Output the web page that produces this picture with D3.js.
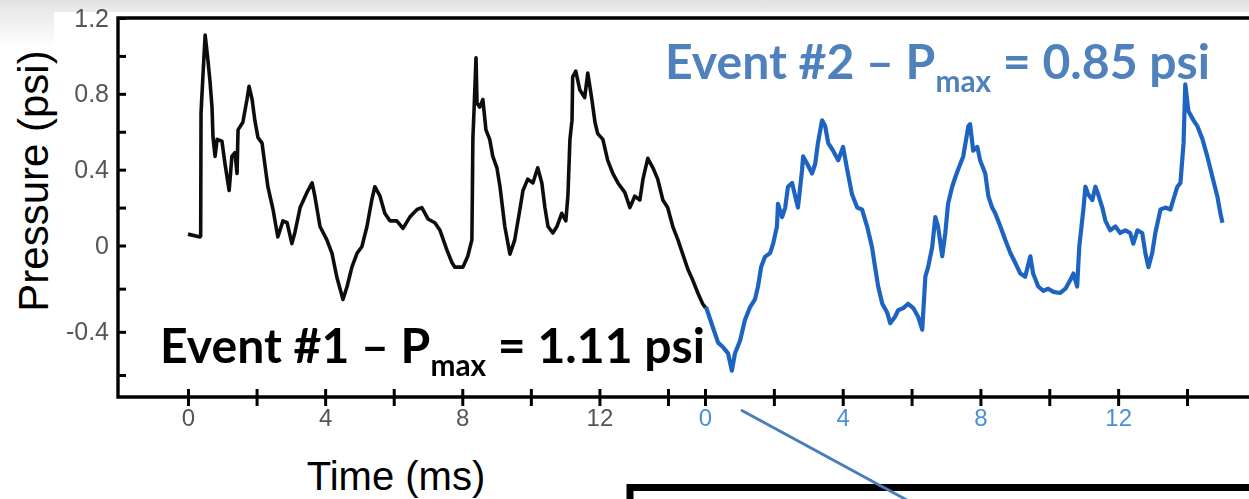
<!DOCTYPE html>
<html>
<head>
<meta charset="utf-8">
<script src="https://cdn.jsdelivr.net/npm/d3@7"></script>
<style>
  html, body { margin: 0; padding: 0; background: #ffffff; overflow: hidden; }
  svg { display: block; }
</style>
</head>
<body>
<svg id="chart" width="1249" height="499"></svg>
<script>
// ---- Data: two blast-pressure recordings (time in ms, pressure in psi) ----
const event1Time = [0.00, 0.35, 0.37, 0.38, 0.44, 0.50, 0.58, 0.64, 0.70, 0.73, 0.79, 0.85, 0.99, 1.08, 1.20,
  1.28, 1.37, 1.43, 1.46, 1.60, 1.72, 1.78, 1.87, 1.95, 2.04, 2.16, 2.24, 2.33, 2.48, 2.62, 2.77, 2.89, 3.03,
  3.12, 3.27, 3.47, 3.62, 3.70, 3.85, 4.05, 4.20, 4.34, 4.52, 4.64, 4.78, 4.93, 5.07, 5.22, 5.36, 5.45, 5.60,
  5.74, 5.89, 6.09, 6.27, 6.47, 6.68, 6.82, 7.00, 7.20, 7.35, 7.55, 7.70, 7.78, 8.02, 8.16, 8.28, 8.31, 8.34,
  8.40, 8.43, 8.51, 8.60, 8.69, 8.80, 8.89, 9.01, 9.10, 9.24, 9.39, 9.53, 9.68, 9.77, 9.91, 10.06, 10.20,
  10.32, 10.41, 10.50, 10.64, 10.76, 10.90, 11.02, 11.08, 11.14, 11.20, 11.22, 11.31, 11.43, 11.57, 11.66,
  11.78, 11.87, 11.95, 12.10, 12.24, 12.39, 12.54, 12.74, 12.89, 13.03, 13.18, 13.27, 13.41, 13.56, 13.70,
  13.85, 13.99, 14.14, 14.29, 14.43, 14.58, 14.72, 14.87, 15.01, 15.10];
const event1Pressure = [0.06, 0.045, 0.05, 0.70, 0.91, 1.11, 0.98, 0.87, 0.73, 0.57, 0.47, 0.56, 0.55, 0.43, 0.29,
  0.47, 0.49, 0.38, 0.61, 0.65, 0.77, 0.84, 0.77, 0.66, 0.57, 0.54, 0.43, 0.31, 0.19, 0.045, 0.13, 0.12, 0.01,
  0.07, 0.20, 0.28, 0.33, 0.26, 0.10, 0.03, -0.036, -0.146, -0.25, -0.19, -0.10, -0.036, -0.006, 0.10, 0.24, 0.31, 0.26,
  0.17, 0.13, 0.13, 0.09, 0.15, 0.19, 0.20, 0.14, 0.12, 0.08, -0.02, -0.08, -0.10, -0.10, -0.05, 0.03, 0.57, 0.70,
  0.99, 0.75, 0.73, 0.77, 0.61, 0.56, 0.47, 0.41, 0.31, 0.10, -0.04, 0.03, 0.19, 0.29, 0.35, 0.33, 0.41,
  0.33, 0.20, 0.10, 0.066, 0.10, 0.17, 0.13, 0.26, 0.56, 0.66, 0.89, 0.92, 0.82, 0.78, 0.91,
  0.77, 0.65, 0.59, 0.56, 0.45, 0.38, 0.33, 0.28, 0.20, 0.26, 0.24, 0.35, 0.46, 0.41, 0.35,
  0.24, 0.20, 0.10, 0.03, -0.04, -0.11, -0.16, -0.22, -0.27, -0.29];

const event2Time = [0.03, 0.23, 0.38, 0.52, 0.67, 0.78, 0.87, 1.02, 1.16, 1.31, 1.45, 1.54, 1.63, 1.74, 1.89, 1.98,
  2.09, 2.12, 2.24, 2.33, 2.41, 2.53, 2.62, 2.70, 2.82, 2.85, 2.97, 3.11, 3.20, 3.28, 3.40, 3.49, 3.58, 3.72,
  3.87, 4.01, 4.13, 4.27, 4.42, 4.56, 4.71, 4.85, 4.94, 5.03, 5.15, 5.29, 5.38, 5.52, 5.61, 5.76, 5.90, 6.05,
  6.19, 6.31, 6.40, 6.48, 6.60, 6.69, 6.77, 6.89, 6.98, 7.06, 7.18, 7.27, 7.35, 7.50, 7.65, 7.70, 7.79, 7.91,
  7.99, 8.14, 8.23, 8.34, 8.43, 8.58, 8.72, 8.87, 9.01, 9.16, 9.30, 9.45, 9.53, 9.68, 9.83, 9.97, 10.12, 10.32,
  10.47, 10.61, 10.70, 10.81, 10.87, 10.99, 11.05, 11.13, 11.25, 11.34, 11.42, 11.54, 11.63, 11.77, 11.92,
  12.06, 12.21, 12.35, 12.44, 12.56, 12.70, 12.79, 12.88, 12.99, 13.08, 13.23, 13.37, 13.52, 13.60, 13.72,
  13.81, 13.90, 13.95, 14.04, 14.19, 14.30, 14.45, 14.59, 14.74, 14.88, 14.97, 15.03];
const event2Pressure = [-0.285, -0.38, -0.45, -0.47, -0.50, -0.58, -0.50, -0.44, -0.345, -0.285, -0.25, -0.19, -0.10, -0.053, -0.035, 0.01,
  0.10, 0.22, 0.15, 0.20, 0.31, 0.33, 0.26, 0.20, 0.40, 0.47, 0.43, 0.38, 0.43, 0.54, 0.66, 0.63, 0.54, 0.50,
  0.45, 0.52, 0.40, 0.27, 0.20, 0.19, 0.10, -0.007, -0.10, -0.19, -0.27, -0.31, -0.36, -0.33, -0.30, -0.29, -0.27, -0.29,
  -0.33, -0.39, -0.145, -0.10, -0.007, 0.15, 0.10, -0.05, 0.066, 0.22, 0.31, 0.36, 0.40, 0.47, 0.63, 0.64, 0.50, 0.52,
  0.45, 0.38, 0.26, 0.20, 0.17, 0.10, 0.03, -0.035, -0.08, -0.13, -0.145, -0.05, -0.13, -0.19, -0.21, -0.20, -0.215, -0.22,
  -0.20, -0.16, -0.13, -0.19, -0.007, 0.19, 0.31, 0.27, 0.24, 0.31, 0.27, 0.20, 0.13, 0.08, 0.10,
  0.066, 0.08, 0.066, 0.01, 0.08, 0.066, -0.035, -0.10, -0.035, 0.066, 0.19, 0.20, 0.19, 0.24, 0.31,
  0.33, 0.54, 0.85, 0.71, 0.66, 0.63, 0.56, 0.47, 0.36, 0.26, 0.17, 0.12];

// ---- Axis ticks and labels ----
const timeTicks = [0, 2, 4, 6, 8, 10, 12, 14];
const timeTickLabels = ["0", "", "4", "", "8", "", "12", ""];
const pressureTicks = [-0.6, -0.4, -0.2, 0, 0.2, 0.4, 0.6, 0.8, 1.0, 1.2];
const pressureTickLabels = ["", "-0.4", "", "0", "", "0.4", "", "0.8", "", "1.2"];

// ---- Layout ----
const W = 1249, H = 499;
const plotLeft = 118, plotBottom = 397;
const svg = d3.select("#chart");

// Slightly uneven pressure axis: the negative half is drawn a little taller
const y = d3.scaleLinear().domain([-0.6, 0, 1.2]).range([375, 245.5, 18]);
const x1 = d3.scaleLinear().domain([0, 14]).range([188, 668]);
const x2 = d3.scaleLinear().domain([0, 14]).range([705, 1187]);

const defs = svg.append("defs");
defs.append("filter").attr("id", "soft")
  .append("feGaussianBlur").attr("stdDeviation", 0.6);
const bandGrad = defs.append("linearGradient").attr("id", "band")
  .attr("x1", 0).attr("y1", 0).attr("x2", 0).attr("y2", 1);
bandGrad.append("stop").attr("offset", 0).attr("stop-color", "#e2e2e2");
bandGrad.append("stop").attr("offset", 1).attr("stop-color", "#ececec");
const cornerGrad = defs.append("linearGradient").attr("id", "corner")
  .attr("x1", 0).attr("y1", 0).attr("x2", 0).attr("y2", 1);
cornerGrad.append("stop").attr("offset", 0).attr("stop-color", "#e4e4e4");
cornerGrad.append("stop").attr("offset", 1).attr("stop-color", "#ffffff");

// slide background strips
svg.append("rect").attr("x", 0).attr("y", 0).attr("width", W).attr("height", H).attr("fill", "#ffffff");
svg.append("rect").attr("x", 0).attr("y", 0).attr("width", 54).attr("height", 48).attr("fill", "url(#corner)");
svg.append("rect").attr("x", 0).attr("y", 0).attr("width", W).attr("height", 12).attr("fill", "url(#band)");

const plot = svg.append("g").attr("filter", "url(#soft)");

// frame: left axis, top border, bottom axis
plot.append("path")
  .attr("d", `M${W + 5},${y(1.2)} H${plotLeft} V${plotBottom} H${W + 5}`)
  .attr("fill", "none").attr("stroke", "#000").attr("stroke-width", 3.4);

const tickFont = "'Liberation Sans', Arial, sans-serif";

// pressure axis
const yAxis = d3.axisLeft(y).tickValues(pressureTicks).tickSize(5).tickPadding(4)
  .tickFormat((d, i) => pressureTickLabels[i]);
plot.append("g").attr("transform", `translate(${plotLeft},0)`).call(yAxis)
  .call(g => g.select(".domain").remove())
  .call(g => g.selectAll(".tick line").attr("x2", 8).attr("stroke", "#000").attr("stroke-width", 3))
  .call(g => g.selectAll(".tick text").attr("fill", "#555")
    .attr("font-family", tickFont).attr("font-size", 25));

// time axes, one per event
function timeAxis(scale, color) {
  const ax = d3.axisBottom(scale).tickValues(timeTicks).tickSize(9).tickPadding(3)
    .tickFormat((d, i) => timeTickLabels[i]);
  plot.append("g").attr("transform", `translate(0,${plotBottom})`).call(ax)
    .call(g => g.select(".domain").remove())
    .call(g => g.selectAll(".tick line").attr("y1", -8).attr("stroke", "#000").attr("stroke-width", 3))
    .call(g => g.selectAll(".tick text").attr("fill", color)
      .attr("font-family", tickFont).attr("font-size", 24));
}
timeAxis(x1, "#555");
timeAxis(x2, "#4a90d9");

// pressure traces
const series1 = event1Time.map((t, i) => ({ t, p: event1Pressure[i] }));
const series2 = event2Time.map((t, i) => ({ t, p: event2Pressure[i] }));
plot.append("path").datum(series1)
  .attr("d", d3.line().x(d => x1(d.t)).y(d => y(d.p)))
  .attr("fill", "none").attr("stroke", "#111").attr("stroke-width", 3.6).attr("stroke-linejoin", "round");
plot.append("path").datum(series2)
  .attr("d", d3.line().x(d => x2(d.t)).y(d => y(d.p)))
  .attr("fill", "none").attr("stroke", "#1f64c2").attr("stroke-width", 4.2).attr("stroke-linejoin", "round");

// axis titles
svg.append("text").attr("x", 396).attr("y", 490).attr("text-anchor", "middle")
  .attr("font-family", "'Liberation Sans', Arial, sans-serif").attr("font-size", 40).attr("fill", "#000")
  .text("Time (ms)");
svg.append("text").attr("transform", "translate(48,181) rotate(-90)").attr("text-anchor", "middle")
  .attr("font-family", "'Liberation Sans', Arial, sans-serif").attr("font-size", 42).attr("fill", "#000")
  .text("Pressure (psi)");

// event annotations, value taken from each trace's peak
function eventLabel(num, peak, x, baseline, color, targetWidth) {
  const t = svg.append("text").attr("x", x).attr("y", baseline)
    .attr("font-family", "Lato, 'Open Sans', sans-serif").attr("font-weight", 700)
    .attr("font-size", 44).attr("fill", color);
  t.append("tspan").text(`Event #${num} \u2013 P`);
  t.append("tspan").style("font-size", "0.62em").attr("dy", "0.44em").text("max");
  t.append("tspan").attr("dy", "-0.27em").text(` = ${d3.format(".2f")(peak)} psi`);
  const w = t.node().getComputedTextLength();
  t.attr("font-size", 44 * targetWidth / w);
}
eventLabel(1, d3.max(event1Pressure), 160, 363, "#000", 545);
eventLabel(2, d3.max(event2Pressure), 665, 79, "#4f81bd", 545);

// callout box and pointer
svg.append("rect").attr("x", 630).attr("y", 487.5).attr("width", 700).attr("height", 100)
  .attr("fill", "#fff").attr("stroke", "#000").attr("stroke-width", 7);
svg.append("line").attr("x1", 741).attr("y1", 410).attr("x2", 916).attr("y2", 505)
  .attr("stroke", "#4a7ebb").attr("stroke-width", 3);
</script>
</body>
</html>
